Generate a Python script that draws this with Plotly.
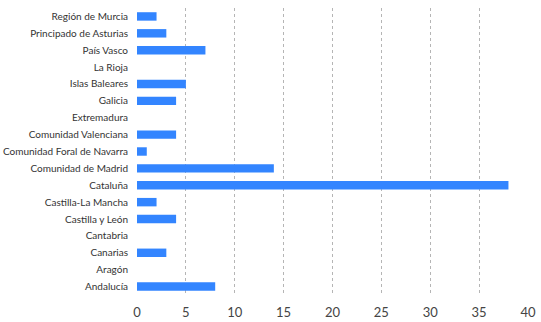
import plotly.graph_objects as go

regions = ["Región de Murcia", "Principado de Asturias", "País Vasco", "La Rioja",
           "Islas Baleares", "Galicia", "Extremadura", "Comunidad Valenciana",
           "Comunidad Foral de Navarra", "Comunidad de Madrid", "Cataluña",
           "Castilla-La Mancha", "Castilla y León", "Cantabria", "Canarias",
           "Aragón", "Andalucía"]
values = [2, 3, 7, 0, 5, 4, 0, 4, 1, 14, 38, 2, 4, 0, 3, 0, 8]
x_ticks = [0, 5, 10, 15, 20, 25, 30, 35, 40]

fig = go.Figure(go.Bar(
    x=values, y=regions, orientation="h",
    marker=dict(color="#3385ff", line=dict(width=0)),
    width=0.5,
))
fig.update_layout(
    width=541, height=322,
    margin=dict(l=137, r=13, t=8, b=27),
    paper_bgcolor="white", plot_bgcolor="white",
    font=dict(family="Lato, sans-serif", color="#333"),
    showlegend=False,
)
fig.update_xaxes(range=[0, 40], tickvals=x_ticks, showgrid=True,
                 gridcolor="#b5b5b5", griddash="dot", gridwidth=1,
                 zeroline=False, tickfont=dict(size=13, color="#444"),
                 ticks="", showline=False, automargin=False,
                 ticklabelstandoff=8)
fig.update_yaxes(categoryorder="array", categoryarray=regions[::-1],
                 tickfont=dict(size=10, color="#333"), ticks="",
                 ticklabelstandoff=8, showgrid=False, automargin=False)
fig.write_html("out.html",
               config={"displayModeBar": False},
               post_script="document.body.style.margin='0';document.body.style.overflow='hidden';")
